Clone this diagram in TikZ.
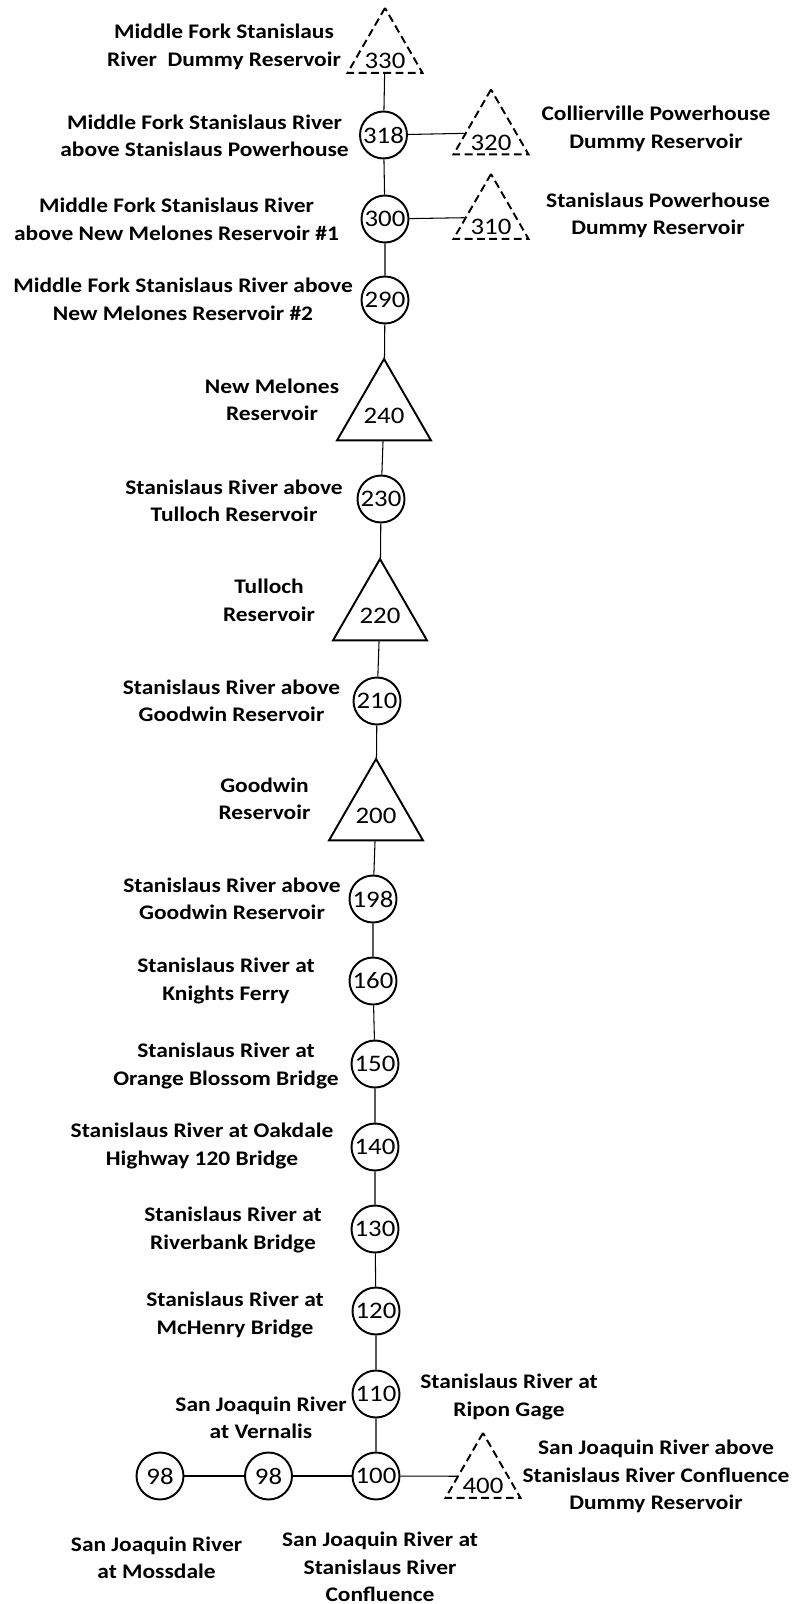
\documentclass[tikz,border=0pt]{standalone}
\usepackage{fontspec}
\setmainfont{Carlito}[FakeStretch=1.13]
\usepackage{tikz}
\usetikzlibrary{shapes,shapes.geometric,positioning}

\begin{document}
\begin{tikzpicture}[
    x=0.02cm, y=-0.02cm,
    num/.style={font=\fontsize{13.5}{16}\selectfont},
    lbl/.style={align=center, inner sep=0pt, font=\fontsize{11.8}{15.65}\selectfont\bfseries},
    gauge/.style={circle, draw, line width=1.1pt, inner sep=0pt, minimum size=0.94cm, num},
    tri/.style={regular polygon, regular polygon sides=3, draw, line width=1.1pt, inner sep=0pt},
    res/.style={tri, minimum size=2.172cm, label={[num, yshift=-0.06cm]center:#1}},
    dummy/.style={tri, dash pattern=on 4.5pt off 2.5pt, minimum size=1.732cm, label={[num, yshift=-0.2cm]center:#1}},
    link/.style={line width=0.6pt}
]
    \useasboundingbox (0,0) rectangle (795,1604);

    % Reservoirs (triangles)
    \node[dummy=330] (t330) at (385,51.3) {};
    \node[dummy=320] (t320) at (491,132.8) {};
    \node[dummy=310] (t310) at (491,217.3) {};
    \node[res=240] (t240) at (384,413.3) {};
    \node[res=220] (t220) at (380,613.3) {};
    \node[res=200] (t200) at (376,813.3) {};
    \node[dummy=400] (t400) at (483,1476.3) {};

    % Nodes along the river (circles)
    \node[gauge] (c318) at (383.5,135) {318};
    \node[gauge] (c300) at (385,219) {300};
    \node[gauge] (c290) at (385,300) {290};
    \node[gauge] (c230) at (381,499) {230};
    \node[gauge] (c210) at (377,701) {210};
    \node[gauge] (c198) at (373,899) {198};
    \node[gauge] (c160) at (373,981) {160};
    \node[gauge] (c150) at (375,1064) {150};
    \node[gauge] (c140) at (375,1147) {140};
    \node[gauge] (c130) at (375,1229) {130};
    \node[gauge] (c120) at (376,1311) {120};
    \node[gauge] (c110) at (376,1394) {110};
    \node[gauge] (c100) at (376,1476) {100};
    \node[gauge] (c98b) at (268.5,1476) {98};
    \node[gauge] (c98a) at (160,1476) {98};

    % Links
    \draw[link] (t330) -- (c318) -- (c300) -- (c290) -- (t240) -- (c230) -- (t220)
        -- (c210) -- (t200) -- (c198) -- (c160) -- (c150) -- (c140) -- (c130)
        -- (c120) -- (c110) -- (c100);
    \draw[link] (c318) -- (t320);
    \draw[link] (c300) -- (t310);
    \draw[link] (c100) -- (t400);
    \draw[link] (c100) -- (c98b) -- (c98a);

    % Labels
    \node[lbl] (l330) at (224,47) {Middle Fork Stanislaus\\River\ \ Dummy Reservoir};
    \node[lbl] (l318) at (204.5,136) {Middle Fork Stanislaus River\\above Stanislaus Powerhouse};
    \node[lbl] (l320) at (656,129) {Collierville Powerhouse\\Dummy Reservoir};
    \node[lbl] (l300) at (176.5,219.5) {Middle Fork Stanislaus River\\above New Melones Reservoir \#1};
    \node[lbl] (l310) at (658,215.5) {Stanislaus Powerhouse\\Dummy Reservoir};
    \node[lbl] (l290) at (183,299.5) {Middle Fork Stanislaus River above\\New Melones Reservoir \#2};
    \node[lbl] (l240) at (272,400) {New Melones\\Reservoir};
    \node[lbl] (l230) at (234,501) {Stanislaus River above\\Tulloch Reservoir};
    \node[lbl] (l220) at (269,600.5) {Tulloch\\Reservoir};
    \node[lbl] (l210) at (231.5,701) {Stanislaus River above\\Goodwin Reservoir};
    \node[lbl] (l200) at (264.5,799) {Goodwin\\Reservoir};
    \node[lbl] (l198) at (232,899) {Stanislaus River above\\Goodwin Reservoir};
    \node[lbl] (l160) at (226,981) {Stanislaus River at\\Knights Ferry};
    \node[lbl] (l150) at (226,1066) {Stanislaus River at\\Orange Blossom Bridge};
    \node[lbl] (l140) at (202,1146) {Stanislaus River at Oakdale\\Highway 120 Bridge};
    \node[lbl] (l130) at (233,1230) {Stanislaus River at\\Riverbank Bridge};
    \node[lbl] (l120) at (235,1315) {Stanislaus River at\\McHenry Bridge};
    \node[lbl] (l110) at (261,1418) {San Joaquin River\\at Vernalis};
    \node[lbl] (l110r) at (509,1397) {Stanislaus River at\\Ripon Gage};
    \node[lbl] (l400) at (656,1476.5) {San Joaquin River above\\Stanislaus River Confluence\\Dummy Reservoir};
    \node[lbl] (l98) at (156.5,1558) {San Joaquin River\\at Mossdale};
    \node[lbl] (l100) at (380,1567) {San Joaquin River at\\Stanislaus River\\Confluence};

\end{tikzpicture}
\end{document}
